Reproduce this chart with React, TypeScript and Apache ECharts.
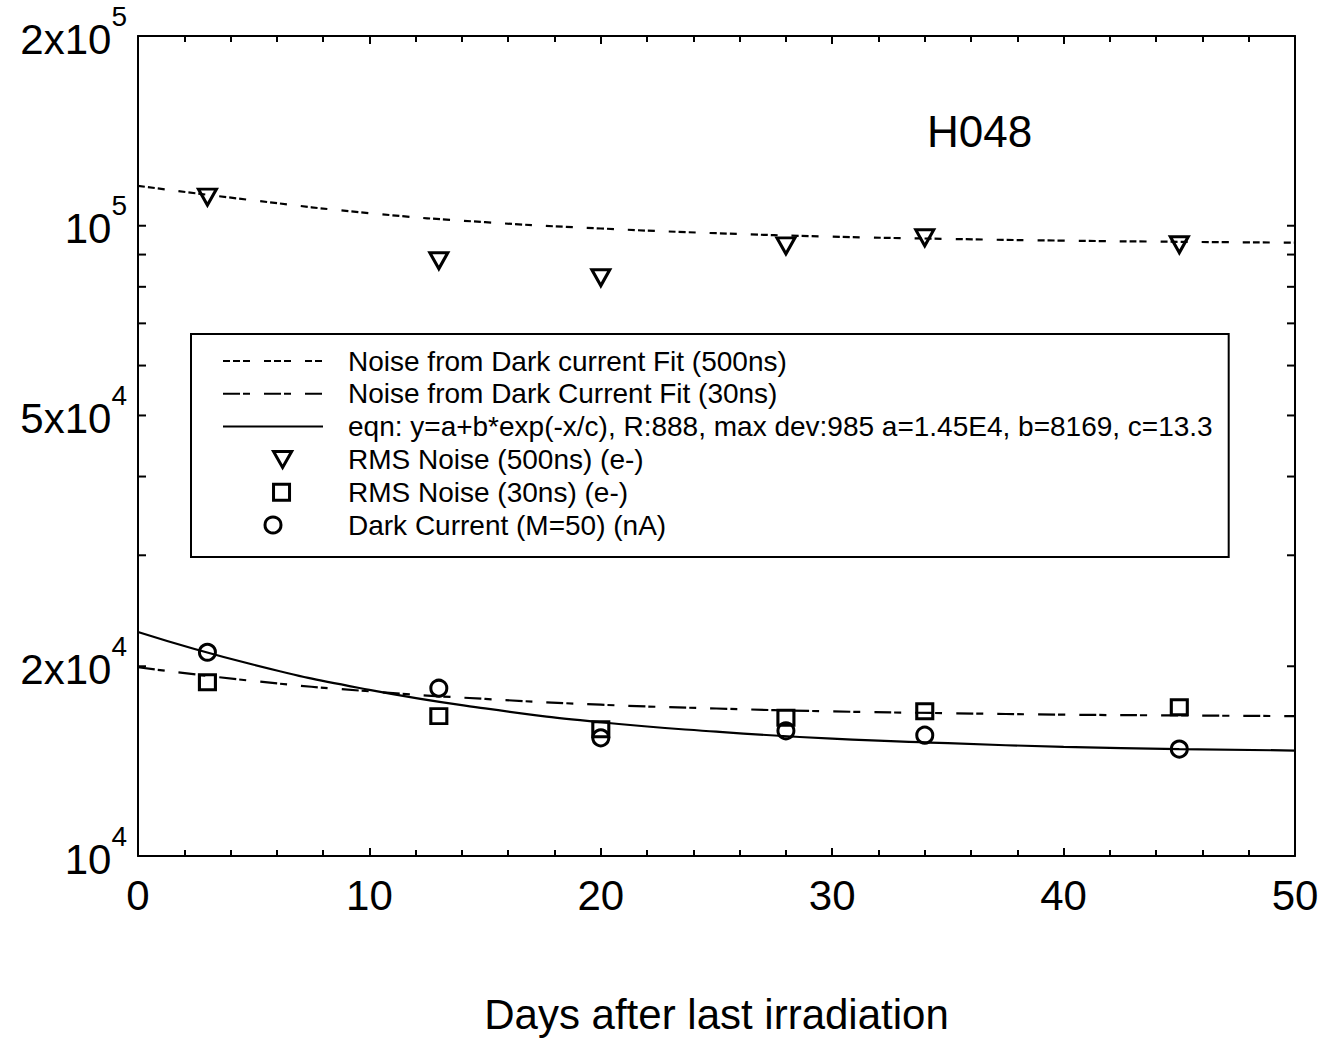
import React, { useEffect, useRef } from 'react';
import * as echarts from 'echarts';

// ---- data ----
const days = [3, 13, 20, 28, 34, 45];
const rmsNoise500 = [111000, 88000, 82700, 92900, 95700, 93300];
const rmsNoise30 = [18870, 16670, 15890, 16570, 16970, 17220];
const darkCurrent = [21050, 18460, 15400, 15800, 15550, 14780];

const fitDays = [0, 5, 10, 15, 20, 25, 30, 35, 40, 45, 50];
const fitNoise500 = [115700, 109700, 104700, 101300, 99000, 97300, 96100, 95300, 94700, 94300, 94000];
const fitNoise30 = [19930, 18950, 18250, 17750, 17380, 17140, 16960, 16850, 16760, 16710, 16670];
const fitDark = [22670, 20110, 18350, 17150, 16300, 15750, 15350, 15100, 14900, 14780, 14700];

const seriesNames = [
  'Noise from Dark current Fit (500ns)',
  'Noise from Dark Current Fit (30ns)',
  'eqn: y=a+b*exp(-x/c), R:888, max dev:985 a=1.45E4, b=8169, c=13.3',
  'RMS Noise (500ns) (e-)',
  'RMS Noise (30ns) (e-)',
  'Dark Current (M=50) (nA)',
];

const xTitle = 'Days after last irradiation';
const panelLabel = 'H048';

const yTickValues = [1e4, 2e4, 3e4, 4e4, 5e4, 6e4, 7e4, 8e4, 9e4, 1e5, 2e5];
const yLabelValues = [1e4, 2e4, 5e4, 1e5, 2e5];
const yLabelMantissa = ['10', '2x10', '5x10', '10', '2x10'];
const yLabelExponent = ['4', '4', '4', '5', '5'];

const FONT = "'Liberation Sans', Arial, Helvetica, sans-serif";
const BLACK = '#000';

const dash500 = [7, 3, 7, 3, 7, 14];
const dashDot30 = [17, 3, 7, 14];

const pairs = (xs: number[], ys: number[]) => xs.map((x, i) => [x, ys[i]]);

export default function App() {
  const ref = useRef<HTMLDivElement>(null);

  useEffect(() => {
    if (!ref.current) return;
    const chart = echarts.init(ref.current, undefined, { renderer: 'svg' });

    const hollow = { color: 'rgba(0,0,0,0)', borderColor: BLACK, borderWidth: 3, opacity: 1 };
    const markerStyle = { color: 'rgba(0,0,0,0)', borderColor: BLACK, borderWidth: 3, opacity: 1 };
    const noMarker = { color: 'rgba(0,0,0,0)', borderColor: 'rgba(0,0,0,0)', borderWidth: 0, opacity: 0 };

    const xAxisCommon = {
      type: 'value' as const,
      min: 0,
      max: 50,
      interval: 10,
      axisLine: { show: true, onZero: false, lineStyle: { color: BLACK, width: 2 } },
      axisTick: { show: true, inside: true, length: 8, lineStyle: { color: BLACK, width: 2 } },
      minorTick: { show: true, splitNumber: 5, length: 6, lineStyle: { color: BLACK, width: 2 } },
      splitLine: { show: false },
      minorSplitLine: { show: false },
    };

    const yAxisCommon = {
      type: 'log' as const,
      logBase: 10,
      min: 1e4,
      max: 2e5,
      axisLine: { show: true, onZero: false, lineStyle: { color: BLACK, width: 2 } },
      axisTick: { show: false },
      axisLabel: { show: false },
      splitLine: { show: false },
      minorTick: { show: false },
    };

    const option: any = {
      animation: false,
      backgroundColor: '#fff',
      grid: { left: 138, right: 29, top: 36, bottom: 183, containLabel: false },
      title: {
        text: panelLabel,
        left: 927,
        top: 109,
        padding: 0,
        textStyle: { fontSize: 44, fontWeight: 'normal', fontFamily: FONT, color: BLACK },
      },
      legend: {
        orient: 'vertical',
        left: 191,
        top: 334,
        padding: [13, 16, 18, 31],
        itemWidth: 100,
        itemHeight: 16,
        itemGap: 4.8,
        symbolKeepAspect: true,
        borderColor: BLACK,
        borderWidth: 2,
        backgroundColor: '#fff',
        selectedMode: false,
        textStyle: {
          fontSize: 28,
          lineHeight: 28,
          fontFamily: FONT,
          color: BLACK,
          padding: [0, 0, 0, 20],
        },
        data: [
          { name: seriesNames[0], itemStyle: noMarker, lineStyle: { type: dash500, width: 2, color: BLACK } },
          { name: seriesNames[1], itemStyle: noMarker, lineStyle: { type: dashDot30, width: 2, color: BLACK } },
          { name: seriesNames[2], itemStyle: noMarker, lineStyle: { type: 'solid', width: 2, color: BLACK } },
          { name: seriesNames[3], icon: 'path://M-18,7.5M0,0L17,0L8.5,15Z', itemStyle: hollow },
          { name: seriesNames[4], icon: 'path://M-16,7.5M0,0L15,0L15,15L0,15Z', itemStyle: hollow },
          { name: seriesNames[5], icon: 'circle', itemStyle: hollow },
        ],
      },
      xAxis: [
        {
          ...xAxisCommon,
          position: 'bottom',
          axisLabel: {
            show: true,
            margin: 18,
            fontSize: 42,
            lineHeight: 42,
            fontFamily: FONT,
            color: BLACK,
          },
          name: xTitle,
          nameLocation: 'middle',
          nameGap: 137,
          nameTextStyle: { fontSize: 42, lineHeight: 42, fontFamily: FONT, color: BLACK },
        },
        {
          ...xAxisCommon,
          position: 'top',
          axisLabel: { show: false },
        },
      ],
      yAxis: [
        { ...yAxisCommon, position: 'left' },
        { ...yAxisCommon, position: 'right' },
      ],
      series: [
        {
          name: seriesNames[0],
          type: 'line',
          data: pairs(fitDays, fitNoise500),
          symbol: 'none',
          smooth: true,
          itemStyle: { color: BLACK },
          lineStyle: { color: BLACK, width: 2.2, type: dash500 },
          z: 2,
        },
        {
          name: seriesNames[1],
          type: 'line',
          data: pairs(fitDays, fitNoise30),
          symbol: 'none',
          smooth: true,
          itemStyle: { color: BLACK },
          lineStyle: { color: BLACK, width: 2.2, type: dashDot30 },
          z: 2,
        },
        {
          name: seriesNames[2],
          type: 'line',
          data: pairs(fitDays, fitDark),
          symbol: 'none',
          smooth: true,
          itemStyle: { color: BLACK },
          lineStyle: { color: BLACK, width: 2.2, type: 'solid' },
          z: 2,
        },
        {
          name: seriesNames[3],
          type: 'scatter',
          data: pairs(days, rmsNoise500),
          symbol: 'triangle',
          symbolRotate: 180,
          symbolSize: [18, 16],
          itemStyle: markerStyle,
          z: 3,
        },
        {
          name: seriesNames[4],
          type: 'scatter',
          data: pairs(days, rmsNoise30),
          symbol: 'rect',
          symbolSize: [16, 15],
          itemStyle: markerStyle,
          z: 3,
        },
        {
          name: seriesNames[5],
          type: 'scatter',
          data: pairs(days, darkCurrent),
          symbol: 'circle',
          symbolSize: 16,
          itemStyle: markerStyle,
          z: 3,
        },
      ],
    };

    chart.setOption(option);

    // y ticks (log minor ticks) and superscript labels placed through the log axis scale
    const xL = chart.convertToPixel({ xAxisIndex: 0 }, 0) as number;
    const xR = chart.convertToPixel({ xAxisIndex: 0 }, 50) as number;
    const graphics: any[] = [];
    yTickValues.forEach((v) => {
      const y = chart.convertToPixel({ yAxisIndex: 0 }, v) as number;
      graphics.push({
        type: 'line',
        silent: true,
        shape: { x1: xL, y1: y, x2: xL + 8, y2: y },
        style: { stroke: BLACK, lineWidth: 2 },
      });
      graphics.push({
        type: 'line',
        silent: true,
        shape: { x1: xR - 8, y1: y, x2: xR, y2: y },
        style: { stroke: BLACK, lineWidth: 2 },
      });
    });
    yLabelValues.forEach((v, i) => {
      const y = chart.convertToPixel({ yAxisIndex: 0 }, v) as number;
      graphics.push({
        type: 'text',
        silent: true,
        x: xL - 11,
        y: y - 5,
        style: {
          text: `{m|${yLabelMantissa[i]}}{s|${yLabelExponent[i]}}`,
          align: 'right',
          verticalAlign: 'middle',
          fill: BLACK,
          rich: {
            m: { fontSize: 42, fontFamily: FONT, lineHeight: 58, verticalAlign: 'bottom', fill: BLACK },
            s: { fontSize: 28, fontFamily: FONT, lineHeight: 28, verticalAlign: 'top', fill: BLACK },
          },
        },
      });
    });
    chart.setOption({ graphic: graphics });

    return () => {
      chart.dispose();
    };
  }, []);

  return (
    <div
      ref={ref}
      style={{ position: 'fixed', left: 0, top: 0, width: 1324, height: 1040, background: '#fff' }}
    />
  );
}
